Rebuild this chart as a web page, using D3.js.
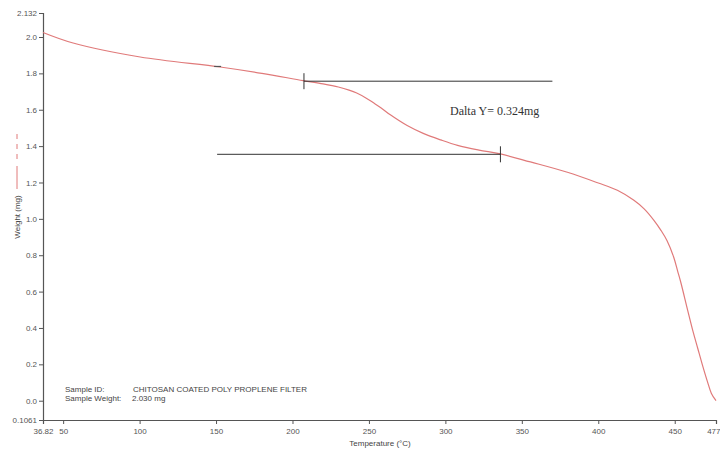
<!DOCTYPE html>
<html>
<head>
<meta charset="utf-8">
<script src="https://cdn.jsdelivr.net/npm/d3@7"></script>
<style>
  body { margin: 0; background: #fff; }
  svg text { font-family: Arial, "Liberation Sans", sans-serif; }
</style>
</head>
<body>
<svg width="720" height="450"></svg>
<script>
// TGA curve
var temps   = [36.82, 56.5, 100.4, 152.7, 180, 207.0, 220, 230, 237, 242, 248, 253, 258, 264, 275, 285.5, 297, 308, 322, 336, 355.6, 379.8, 400, 412.5, 423.3, 430, 436.4, 441, 445, 449.3, 452, 454, 458.4, 462, 465, 468, 471.4, 474, 477];
var weights = [2.025, 1.967, 1.890, 1.835, 1.800, 1.760, 1.742, 1.725, 1.708, 1.692, 1.665, 1.638, 1.610, 1.572, 1.513, 1.470, 1.434, 1.404, 1.378, 1.357, 1.313, 1.256, 1.197, 1.157, 1.102, 1.055, 0.992, 0.937, 0.880, 0.790, 0.710, 0.650, 0.500, 0.380, 0.290, 0.200, 0.105, 0.040, 0.0];

var xTicks = [36.82, 50, 100, 150, 200, 250, 300, 350, 400, 450, 477];
var xTickLabels = ["36.82", "50", "100", "150", "200", "250", "300", "350", "400", "450", "477"];
var yTicks = [-0.1061, 0, 0.2, 0.4, 0.6, 0.8, 1.0, 1.2, 1.4, 1.6, 1.8, 2.0, 2.132];
var yTickLabels = ["0.1061", "0.0", "0.2", "0.4", "0.6", "0.8", "1.0", "1.2", "1.4", "1.6", "1.8", "2.0", "2.132"];

// step annotation: upper line, lower line, delta text
var stepTop = {y: 1.757, x1: 207.5, x2: 370};
var stepBottom = {y: 1.355, x1: 150.7, x2: 336};
var deltaText = "Dalta Y= 0.324mg";

var svg = d3.select("svg");
var axisColor = "#555";
var lineColor = "#e07a7a";

var x = d3.scaleLinear().domain([36.82, 477]).range([43, 716]);
var y = d3.scaleLinear().domain([-0.1061, 2.132]).range([420, 13]);

// axes
var xAxis = d3.axisBottom(x).tickValues(xTicks).tickSize(4)
  .tickFormat(function (d, i) { return xTickLabels[i]; });
var yAxis = d3.axisLeft(y).tickValues(yTicks).tickSize(4)
  .tickFormat(function (d, i) { return yTickLabels[i]; });

var gx = svg.append("g").attr("transform", "translate(0,420)").call(xAxis);
var gy = svg.append("g").attr("transform", "translate(43,0)").call(yAxis);

[gx, gy].forEach(function (g) {
  g.select(".domain").attr("stroke", axisColor).attr("stroke-width", 1.2);
  g.selectAll(".tick line").attr("stroke", axisColor);
  g.selectAll(".tick text").attr("fill", "#555").style("font-size", "8px")
    .style("font-family", "Arial, 'Liberation Sans', sans-serif");
});
gx.selectAll(".tick text").attr("dy", "0.9em");
// last label sits at the right edge
gx.selectAll(".tick text").filter(function (d) { return d === 477; })
  .attr("text-anchor", "end").attr("x", 4);
gy.selectAll(".tick text").attr("x", -6);

// axis titles
svg.append("text")
  .attr("x", 380).attr("y", 446)
  .attr("text-anchor", "middle")
  .attr("fill", "#444").style("font-size", "8px")
  .text("Temperature (\u00B0C)");

svg.append("text")
  .attr("transform", "translate(20,217) rotate(-90)")
  .attr("text-anchor", "middle")
  .attr("fill", "#444").style("font-size", "8px")
  .text("Weight (mg)");

// legend sample beside y title
svg.append("line")
  .attr("x1", 17).attr("x2", 17).attr("y1", 134).attr("y2", 162)
  .attr("stroke", lineColor).attr("stroke-dasharray", "5,5").attr("stroke-width", 1);
svg.append("line")
  .attr("x1", 17).attr("x2", 17).attr("y1", 166).attr("y2", 189)
  .attr("stroke", lineColor).attr("stroke-width", 1);

// curve
var pts = temps.map(function (t, i) { return [t, weights[i]]; });
var line = d3.line()
  .x(function (d) { return x(d[0]); })
  .y(function (d) { return y(d[1]); })
  .curve(d3.curveCatmullRom.alpha(0.5));

svg.append("path")
  .datum(pts)
  .attr("d", line)
  .attr("fill", "none")
  .attr("stroke", lineColor)
  .attr("stroke-width", 1.2);

// step annotation lines
var annColor = "#333";
svg.append("line")
  .attr("x1", x(stepTop.x1)).attr("x2", x(stepTop.x2))
  .attr("y1", y(stepTop.y)).attr("y2", y(stepTop.y))
  .attr("stroke", annColor).attr("stroke-width", 1);
svg.append("line")
  .attr("x1", x(stepTop.x1)).attr("x2", x(stepTop.x1))
  .attr("y1", y(stepTop.y) - 8).attr("y2", y(stepTop.y) + 8)
  .attr("stroke", annColor).attr("stroke-width", 1);

svg.append("line")
  .attr("x1", x(stepBottom.x1)).attr("x2", x(stepBottom.x2))
  .attr("y1", y(stepBottom.y)).attr("y2", y(stepBottom.y))
  .attr("stroke", annColor).attr("stroke-width", 1);
svg.append("line")
  .attr("x1", x(stepBottom.x2)).attr("x2", x(stepBottom.x2))
  .attr("y1", y(stepBottom.y) - 8).attr("y2", y(stepBottom.y) + 8)
  .attr("stroke", annColor).attr("stroke-width", 1);

// small start marker on the curve
svg.append("line")
  .attr("x1", x(stepBottom.x1) - 3).attr("x2", x(stepBottom.x1) + 4)
  .attr("y1", y(1.838)).attr("y2", y(1.838))
  .attr("stroke", "#555").attr("stroke-width", 1.2);

svg.append("text")
  .attr("x", 450).attr("y", 115)
  .attr("fill", "#333")
  .style("font-family", "'Liberation Serif', 'DejaVu Serif', serif")
  .style("font-size", "12px")
  .text(deltaText);

// sample info
var info = svg.append("g").attr("fill", "#444").style("font-size", "8px");
info.append("text").attr("x", 65).attr("y", 392).text("Sample ID:");
info.append("text").attr("x", 133).attr("y", 392).text("CHITOSAN COATED POLY PROPLENE FILTER");
info.append("text").attr("x", 65).attr("y", 401).text("Sample Weight:");
info.append("text").attr("x", 132).attr("y", 401).text("2.030 mg");
</script>
</body>
</html>
